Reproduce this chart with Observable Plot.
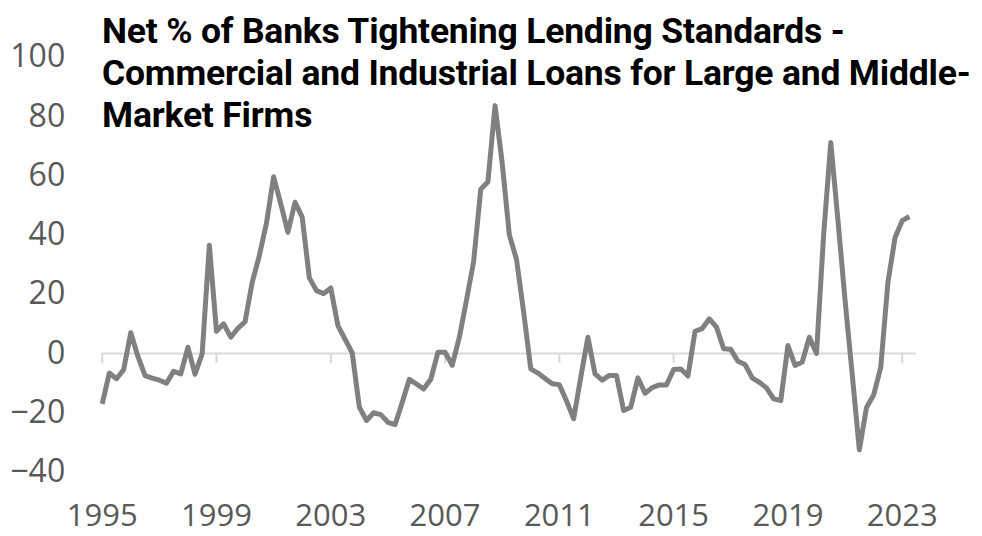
<!DOCTYPE html>
<html>
<head>
<meta charset="utf-8">
<script src="https://cdn.jsdelivr.net/npm/d3@7"></script>
<script src="https://cdn.jsdelivr.net/npm/@observablehq/plot@0.6"></script>
<style>
  html, body { margin: 0; padding: 0; background: #fff; }
  #wrap { position: relative; width: 982px; height: 536px; overflow: hidden; }
  #title {
    position: absolute; left: 102px; top: 10px;
    font-family: Roboto, "Noto Sans", sans-serif; font-weight: 700;
    font-size: 35.5px; line-height: 42px; color: #000; white-space: nowrap;
    letter-spacing: -0.2px;
  }
</style>
</head>
<body>
<div id="wrap">
  <div id="chart"></div>
  <div id="title">Net % of Banks Tightening Lending Standards -<br>Commercial and Industrial Loans for Large and Middle-<br>Market Firms</div>
</div>
<script>
// Quarterly survey, first observation 1995 Q1
const firstYear = 1995;
const values = [
  -17, -6.6, -8.5, -5.5, 7.0, -1, -7.5, -8.3, -9, -10,
  -6, -6.9, 2.1, -7, 0, 36.5, 7.5, 10, 5.5, 8.5,
  10.7, 24, 33, 44, 59.6, 50.5, 40.9, 51, 46, 25.5,
  21.2, 20.2, 22.1, 9.4, 4.8, 0.2, -18.1, -22.6, -20, -20.6,
  -23.2, -24, -16.5, -8.7, -10.3, -12, -8.7, 0.4, 0.4, -4,
  5.5, 18, 31, 55.4, 57.9, 83.6, 64.2, 40, 31.8, 14,
  -5.2, -6.6, -8.4, -10.2, -10.5, -16, -22, -8, 5.5, -6.9,
  -9, -7.4, -7.4, -19.2, -18.1, -8.2, -13.4, -11.5, -10.6, -10.6,
  -5.4, -5.2, -7.6, 7.5, 8.4, 11.7, 8.9, 1.6, 1.4, -2.6,
  -3.7, -8.2, -9.7, -11.6, -15.3, -15.9, 2.7, -4, -2.9, 5.5,
  0, 40, 71.2, 45, 18, -7, -32.5, -18.2, -14, -4.6,
  24, 39.1, 44.8, 46.2
];
const xTickYears = [1995, 1999, 2003, 2007, 2011, 2015, 2019, 2023];
const yTicks = [-40, -20, 0, 20, 40, 60, 80, 100];

const data = values.map((v, i) => ({t: firstYear + i / 4, v}));

const chart = Plot.plot({
  width: 982,
  height: 536,
  marginLeft: 101.7,
  marginRight: 80.3,
  marginTop: 56.5,
  marginBottom: 64.4,
  style: {fontFamily: '"Open Sans", sans-serif', fontSize: "32px", color: "#595959", background: "#fff", overflow: "visible"},
  x: {domain: [1995, 2023]},
  y: {domain: [-40, 100]},
  marks: [
    Plot.ruleY([0], {x1: firstYear, x2: firstYear + values.length / 4, stroke: "#d9d9d9", strokeWidth: 2}),
    Plot.ruleX(xTickYears, {x: d => d, y1: 0, y2: -3.4, stroke: "#d9d9d9", strokeWidth: 2}),
    Plot.axisY(yTicks, {tickSize: 0, tickPadding: 37, fontSize: 32, fill: "#595959", label: null}),
    Plot.axisX(xTickYears, {tickSize: 0, tickPadding: 32, fontSize: 31, fill: "#595959", label: null, tickFormat: d => String(d)}),
    Plot.line(data, {x: "t", y: "v", stroke: "#808080", strokeWidth: 5, strokeLinejoin: "round", strokeLinecap: "butt"})
  ]
});
document.getElementById("chart").appendChild(chart);
</script>
</body>
</html>
